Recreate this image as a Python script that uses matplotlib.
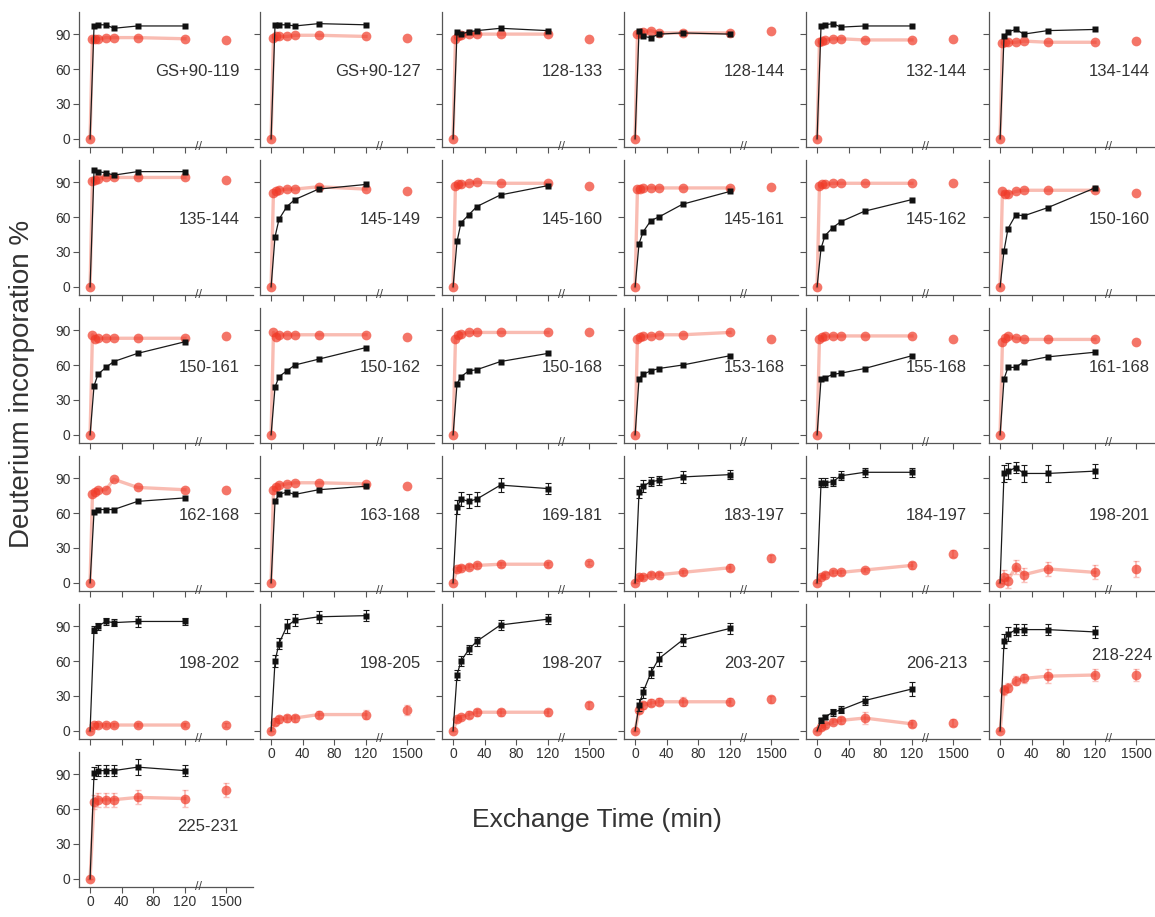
import numpy as np
import matplotlib
matplotlib.use("Agg")
import matplotlib.pyplot as plt

plt.rcParams['font.family'] = ['Liberation Sans', 'DejaVu Sans']

# time points (min)
t_black = [5, 10, 20, 30, 60, 120]
t_red_dense = [0, 3, 6, 10, 20, 30, 60, 120]
t_red_sparse = [0, 5, 10, 20, 30, 60, 120]
t_late = 1500

names = ["GS+90-119", "GS+90-127", "128-133", "128-144", "132-144", "134-144",
         "135-144", "145-149", "145-160", "145-161", "145-162", "150-160",
         "150-161", "150-162", "150-168", "153-168", "155-168", "161-168",
         "162-168", "163-168", "169-181", "183-197", "184-197", "198-201",
         "198-202", "198-205", "198-207", "203-207", "206-213", "218-224",
         "225-231"]

black = [
    [97, 98, 98, 95, 97, 97], [98, 98, 98, 97, 99, 98], [92, 90, 92, 93, 95, 93],
    [93, 88, 87, 90, 91, 90], [97, 98, 99, 96, 97, 97], [88, 92, 94, 90, 93, 94],
    [100, 99, 98, 96, 99, 99], [43, 58, 69, 75, 84, 88], [39, 55, 62, 69, 79, 87],
    [37, 47, 57, 60, 71, 82], [33, 44, 51, 56, 65, 75], [31, 50, 62, 61, 68, 85],
    [42, 52, 58, 63, 70, 80], [41, 50, 55, 60, 65, 75], [44, 50, 55, 56, 63, 70],
    [48, 52, 55, 57, 60, 68], [48, 49, 52, 53, 57, 68], [48, 58, 58, 63, 67, 71],
    [61, 63, 63, 63, 70, 73], [70, 76, 78, 76, 80, 83], [65, 72, 70, 72, 84, 81],
    [78, 83, 87, 88, 91, 93], [86, 86, 87, 92, 95, 95], [94, 96, 99, 94, 94, 96],
    [87, 90, 94, 93, 94, 94], [60, 75, 90, 95, 98, 99], [48, 60, 70, 77, 91, 96],
    [22, 33, 50, 62, 78, 88], [9, 12, 16, 18, 26, 36], [77, 83, 87, 87, 87, 85],
    [91, 93, 93, 93, 96, 93]]

red = [
    [0, 86, 86, 86, 87, 87, 87, 86], [0, 87, 88, 88, 88, 89, 89, 88],
    [0, 86, 88, 89, 90, 90, 90, 90], [0, 90, 91, 92, 93, 91, 91, 91],
    [0, 83, 84, 85, 86, 86, 85, 85], [0, 82, 83, 83, 83, 84, 83, 83],
    [0, 91, 92, 93, 94, 94, 94, 94], [0, 81, 82, 83, 84, 84, 86, 84],
    [0, 87, 88, 88, 89, 90, 89, 89], [0, 84, 84, 85, 85, 85, 85, 85],
    [0, 87, 88, 88, 89, 89, 89, 89], [0, 82, 80, 80, 82, 83, 83, 83],
    [0, 86, 82, 83, 83, 83, 83, 83], [0, 88, 84, 86, 86, 86, 86, 86],
    [0, 82, 86, 87, 88, 88, 88, 88], [0, 82, 84, 85, 85, 86, 86, 88],
    [0, 82, 84, 85, 85, 85, 85, 85], [0, 80, 83, 85, 83, 82, 82, 82],
    [0, 76, 78, 80, 80, 89, 82, 80], [0, 80, 82, 84, 85, 86, 86, 85],
    [0, 12, 13, 14, 15, 16, 16], [0, 5, 5, 7, 7, 9, 13],
    [0, 5, 7, 9, 9, 11, 15], [0, 5, 2, 14, 7, 12, 9],
    [0, 5, 5, 5, 5, 5, 5], [0, 8, 10, 11, 11, 14, 14],
    [0, 10, 12, 14, 16, 16, 16], [0, 18, 22, 24, 25, 25, 25],
    [0, 3, 5, 8, 9, 11, 6], [0, 35, 37, 43, 45, 47, 48],
    [0, 66, 68, 68, 68, 70, 69]]

red_late = [85, 87, 86, 93, 86, 84, 92, 82, 87, 86, 89, 81, 85, 84, 88, 82,
            82, 80, 80, 83, 17, 21, 25, 12, 5, 18, 22, 27, 7, 48, 76]

# error bars (only the later panels have them)
black_err = {20: [6, 6, 6, 6, 6, 5], 21: [5, 5, 4, 4, 5, 4], 22: [4, 4, 4, 4, 4, 4],
             23: [7, 7, 5, 7, 7, 6], 24: [3, 3, 3, 3, 5, 3], 25: [5, 5, 6, 5, 5, 5],
             26: [4, 4, 4, 4, 4, 4], 27: [5, 5, 5, 6, 5, 5], 28: [2, 2, 3, 3, 4, 6],
             29: [6, 6, 5, 5, 5, 5], 30: [5, 5, 5, 5, 7, 5]}
red_err = {20: [0, 2, 2, 2, 2, 2, 2], 21: [0, 2, 2, 2, 2, 2, 3], 22: [0, 2, 2, 2, 2, 2, 3],
           23: [0, 6, 6, 6, 6, 6, 6], 24: [0, 2, 2, 2, 2, 2, 2], 25: [0, 3, 3, 3, 3, 3, 4],
           26: [0, 2, 2, 3, 3, 3, 3], 27: [0, 3, 3, 3, 3, 4, 3], 28: [0, 2, 2, 2, 3, 5, 3],
           29: [0, 4, 4, 4, 4, 6, 5], 30: [0, 6, 6, 6, 6, 6, 7]}
red_late_err = {20: 2, 21: 3, 22: 3, 23: 7, 24: 2, 25: 4, 26: 3, 27: 3, 28: 3, 29: 5, 30: 6}

label_pos = {29: (0.94, 0.62), 30: (0.914, 0.445)}


def fwd(x):
    x = np.asarray(x, float)
    return np.where(x <= 130, x, 130 + (x - 130) * 42 / 1370)


def inv(y):
    y = np.asarray(y, float)
    return np.where(y <= 130, y, 130 + (y - 130) * 1370 / 42)


W, H = 1155, 917
fig = plt.figure(figsize=(W / 100, H / 100), dpi=100)

col_left = [79, 260, 442, 624, 806, 989]
aw, ah = 174, 135
red_c = '#f03a28'
red_line = '#f9bcb2'

for i, name in enumerate(names):
    r, c = divmod(i, 6)
    top = 12 + 148 * r
    ax = fig.add_axes([col_left[c] / W, 1 - (top + ah) / H, aw / W, ah / H])
    ax.set_xscale('function', functions=(fwd, inv))

    t_red = t_red_dense if i < 20 else t_red_sparse
    ax.plot(t_red, red[i], '-', color=red_line, lw=2.4, zorder=1)
    if i in red_err:
        ax.errorbar(t_red, red[i], yerr=red_err[i], fmt='none', ecolor=red_c,
                    alpha=0.3, elinewidth=1.5, capsize=2, zorder=2)
        ax.errorbar([t_late], [red_late[i]], yerr=[red_late_err[i]], fmt='none',
                    ecolor=red_c, alpha=0.3, elinewidth=1.5, capsize=2, zorder=2)
    ax.plot(t_red, red[i], 'o', color=red_c, ms=7, mec='none', alpha=0.7, zorder=3)
    ax.plot([t_late], [red_late[i]], 'o', color=red_c, ms=7, mec='none', alpha=0.7, zorder=3)

    ax.plot([0] + t_black, [0] + black[i], '-', color='#1a1a1a', lw=0.9, zorder=4)
    if i in black_err:
        ax.errorbar(t_black, black[i], yerr=black_err[i], fmt='none', ecolor='#1a1a1a',
                    elinewidth=0.8, capsize=2, capthick=0.8, zorder=5)
    ax.plot(t_black, black[i], 's', color='#111111', ms=4.2, mec='none', zorder=6)

    ax.set_xlim(-14, inv(206))
    ax.set_ylim(-7, 109)
    ax.set_xticks([0, 40, 80, 120, 1500])
    ax.set_yticks([0, 30, 60, 90])
    ax.xaxis.set_minor_locator(matplotlib.ticker.NullLocator())
    for s in ['top', 'right']:
        ax.spines[s].set_visible(False)
    for s in ['left', 'bottom']:
        ax.spines[s].set_color('#555555')
        ax.spines[s].set_linewidth(0.9)
    ax.tick_params(direction='out', length=4, width=0.8, color='#555555',
                   labelsize=10, labelcolor='#333333', pad=2)
    if c != 0:
        ax.set_yticklabels([])
    if not (r == 4 and c > 0) and i != 30:
        ax.set_xticklabels([])
    else:
        ax.set_xticklabels(['0', '40', '80', '120', '1500'])
    ax.text(0.686, 0, '//', transform=ax.transAxes, ha='center', va='center',
            fontsize=9, color='#444444')

    lx, ly = label_pos.get(i, (0.925, 0.56))
    ax.text(lx, ly, name, transform=ax.transAxes, ha='right', va='center',
            fontsize=12, color='#333333')

fig.text(22 / W, 1 - 384 / H, 'Deuterium incorporation %', rotation=90,
         ha='center', va='center', fontsize=20, color='#333333')
fig.text(597 / W, 1 - 820 / H, 'Exchange Time (min)', ha='center', va='center',
         fontsize=19, color='#333333')

fig.savefig('out.png', dpi=100)
